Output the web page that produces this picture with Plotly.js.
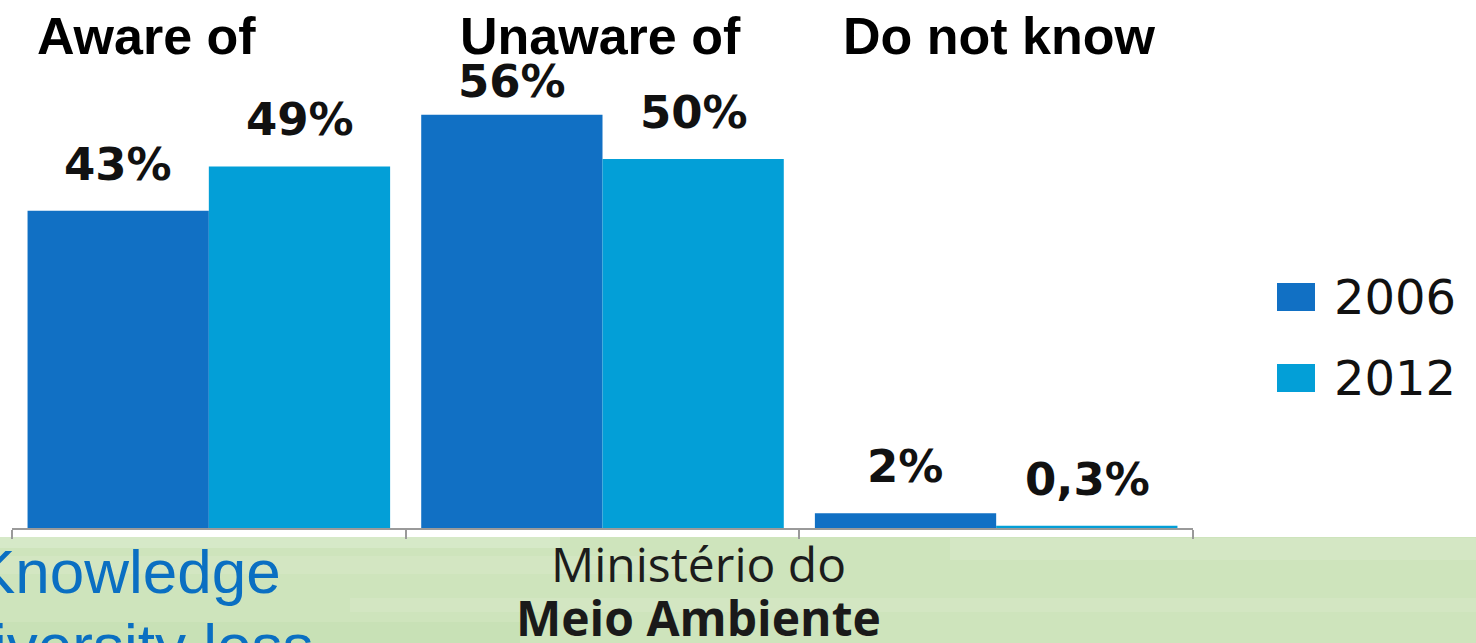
<!DOCTYPE html>
<html>
<head>
<meta charset="utf-8">
<script src="https://cdn.plot.ly/plotly-3.0.1.min.js"></script>
<style>
  html, body { margin: 0; padding: 0; background: #ffffff; }
  #chart { width: 1476px; height: 643px; }
</style>
</head>
<body>
<div id="chart"></div>
<script>
// ---- data ----
const categories = ['Aware of', 'Unaware of', 'Do not know'];
const seriesNames = ['2006', '2012'];
const values2006 = [43, 56, 2];
const values2012 = [49, 50, 0.3];
const labels2006 = ['43%', '56%', '2%'];
const labels2012 = ['49%', '50%', '0,3%'];
const seriesColors = ['#1170C4', '#039FD7'];
const footerLeftLines = ['Knowledge', 'Biodiversity loss'];
const footerCenterLines = ['Ministério do', 'Meio Ambiente'];

// ---- geometry helpers (pixel -> paper) ----
const W = 1476, H = 643;
const M = {l: 12, r: 283, t: 0, b: 115};
const PW = W - M.l - M.r, PH = H - M.t - M.b;
const PX_PER_UNIT = 7.38;
const px = x => (x - M.l) / PW;
const py = y => (H - M.b - y) / PH;

const seriesValues = [values2006, values2012];
const seriesLabels = [labels2006, labels2012];

const traces = seriesNames.map((name, i) => ({
  type: 'bar',
  name: name,
  x: categories,
  y: seriesValues[i],
  marker: {color: seriesColors[i], line: {width: 0}},
  hoverinfo: 'x+y+name',
  showlegend: false
}));

const annotations = [];
const shapes = [];

// value labels above bars (kept below the category title band)
const barShift = [-91, 91];
seriesNames.forEach((name, i) => {
  categories.forEach((c, j) => {
    const barTopPx = PH - seriesValues[i][j] * PX_PER_UNIT;
    const ys = Math.max(4, Math.min(18, barTopPx - 110));
    annotations.push({
      x: c, y: seriesValues[i][j], xref: 'x', yref: 'y',
      text: seriesLabels[i][j], showarrow: false,
      xanchor: 'center', yanchor: 'bottom',
      xshift: barShift[i], yshift: ys,
      font: {family: 'DejaVu Sans, Verdana, sans-serif', size: 45, color: '#111111', weight: 700}
    });
  });
});

// category titles at top
const titleShift = [-62, -2, 3];
categories.forEach((c, j) => {
  annotations.push({
    x: c, y: py(36), xref: 'x', yref: 'paper',
    text: '<b>' + c + '</b>', showarrow: false,
    xanchor: 'center', yanchor: 'middle', xshift: titleShift[j],
    font: {family: 'Liberation Sans, Arial, sans-serif', size: 52, color: '#000000'}
  });
});

// custom legend (large square swatches)
const legendRowsY = [297, 378];
seriesNames.forEach((name, i) => {
  const cy = legendRowsY[i];
  shapes.push({
    type: 'rect', xref: 'paper', yref: 'paper',
    x0: px(1277), x1: px(1315), y0: py(cy + 14), y1: py(cy - 14),
    fillcolor: seriesColors[i], line: {width: 0}
  });
  annotations.push({
    x: px(1332), y: py(cy), xref: 'paper', yref: 'paper',
    text: name, showarrow: false, xanchor: 'left', yanchor: 'middle',
    font: {family: 'DejaVu Sans, Verdana, sans-serif', size: 48, color: '#111111'}
  });
});

// green footer band
shapes.push({
  type: 'rect', xref: 'paper', yref: 'paper', layer: 'below',
  x0: px(0), x1: px(W), y0: py(H), y1: py(537),
  fillcolor: '#cee4bc', line: {width: 0}
});
const stripes = [[0, 537, 560, 548, 'rgba(255,255,255,0.18)'],
                 [0, 556, 700, 574, 'rgba(255,255,255,0.10)'],
                 [350, 598, 1476, 612, 'rgba(255,255,255,0.10)'],
                 [950, 538, 1476, 560, 'rgba(255,255,255,0.12)'],
                 [0, 622, 520, 643, 'rgba(185,215,165,0.25)']];
stripes.forEach(s => shapes.push({
  type: 'rect', xref: 'paper', yref: 'paper', layer: 'below',
  x0: px(s[0]), x1: px(s[2]), y0: py(s[3]), y1: py(s[1]),
  fillcolor: s[4], line: {width: 0}
}));

// footer texts
annotations.push({
  x: px(-28), y: py(571), xref: 'paper', yref: 'paper',
  text: footerLeftLines[0], showarrow: false, xanchor: 'left', yanchor: 'middle',
  font: {family: 'Liberation Sans, Arial, sans-serif', size: 62, color: '#0A6FC2'}
});
annotations.push({
  x: px(-133), y: py(645), xref: 'paper', yref: 'paper',
  text: footerLeftLines[1], showarrow: false, xanchor: 'left', yanchor: 'middle',
  font: {family: 'Liberation Sans, Arial, sans-serif', size: 62, color: '#0A6FC2'}
});
annotations.push({
  x: px(698), y: py(563), xref: 'paper', yref: 'paper',
  text: footerCenterLines[0], showarrow: false, xanchor: 'center', yanchor: 'middle',
  font: {family: 'Open Sans, sans-serif', size: 48, color: '#1c1c1c'}
});
annotations.push({
  x: px(698), y: py(617), xref: 'paper', yref: 'paper',
  text: '<b>' + footerCenterLines[1] + '</b>', showarrow: false, xanchor: 'center', yanchor: 'middle',
  font: {family: 'Open Sans, sans-serif', size: 48, color: '#1a1a1a'}
});

const layout = {
  width: W, height: H,
  margin: M,
  paper_bgcolor: '#ffffff',
  plot_bgcolor: 'rgba(0,0,0,0)',
  barmode: 'group',
  bargap: 0.079,
  bargroupgap: 0,
  showlegend: false,
  xaxis: {
    type: 'category',
    showticklabels: false,
    showline: true, linecolor: '#9a9a9a', linewidth: 2,
    ticks: 'outside', tickson: 'boundaries', ticklen: 9, tickcolor: '#9a9a9a', tickwidth: 2,
    showgrid: false, zeroline: false, fixedrange: true
  },
  yaxis: {
    range: [0, PH / PX_PER_UNIT],
    visible: false, showgrid: false, zeroline: false, fixedrange: true
  },
  annotations: annotations,
  shapes: shapes
};

Plotly.newPlot('chart', traces, layout, {displayModeBar: false, staticPlot: true});
</script>
</body>
</html>
